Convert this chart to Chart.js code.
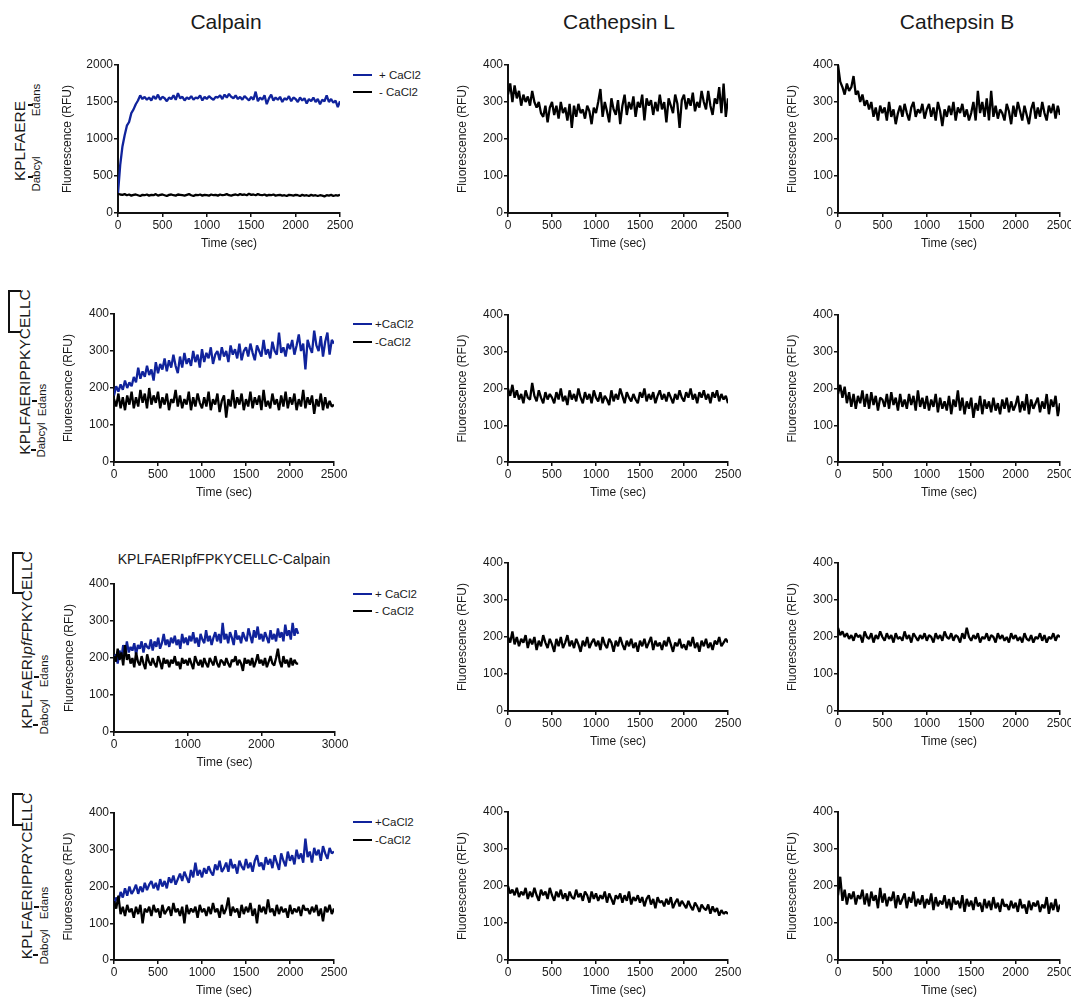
<!DOCTYPE html>
<html><head><meta charset="utf-8">
<script src="https://cdn.jsdelivr.net/npm/chart.js@4.4.1/dist/chart.umd.min.js"></script>
<style>
html,body{margin:0;padding:0;background:#fff;}
body{width:1071px;height:997px;position:relative;overflow:hidden;font-family:"Liberation Sans",Arial,Helvetica,sans-serif;color:#1a1a1a;}
canvas{position:absolute;}
.col{position:absolute;top:9px;font-size:21px;line-height:26px;transform:translateX(-50%);white-space:nowrap;}
.rot{position:absolute;white-space:nowrap;line-height:1;transform:translate(-50%,-50%) rotate(-90deg);}
.pep{font-size:15.5px;}
.lab{font-size:11.5px;}
.mark{position:absolute;height:2px;width:5px;background:#111;}
.br{position:absolute;border:2px solid #111;border-right:none;box-sizing:border-box;}
.leg{position:absolute;font-size:11.5px;line-height:12px;white-space:nowrap;}
.ln{position:absolute;height:2px;width:19px;}
.ptitle{position:absolute;font-size:14px;line-height:16px;white-space:nowrap;transform:translateX(-50%);}
</style></head><body>

<div class="col" style="left:226px">Calpain</div>
<div class="col" style="left:619px">Cathepsin L</div>
<div class="col" style="left:957px">Cathepsin B</div>

<!-- row labels -->
<div class="rot pep" style="left:20px;top:141px">KPLFAERE</div>
<div class="rot lab" style="left:37px;top:100px">Edans</div>
<div class="rot lab" style="left:37px;top:174px">Dabcyl</div>
<div class="mark" style="left:28px;top:104px"></div>
<div class="mark" style="left:28px;top:176px"></div>

<div class="br" style="left:8px;top:290px;width:13px;height:43px"></div>
<div class="rot pep" style="left:25px;top:372px">KPLFAERIPPKYCELLC</div>
<div class="rot lab" style="left:43px;top:400px">Edans</div>
<div class="rot lab" style="left:42px;top:440px">Dabcyl</div>
<div class="mark" style="left:32px;top:400px"></div>
<div class="mark" style="left:31px;top:449px"></div>

<div class="br" style="left:12px;top:552px;width:11px;height:42px"></div>
<div class="rot pep" style="left:27px;top:640px">KPLFAERI<i>pfF</i>PKYCELLC</div>
<div class="rot lab" style="left:45px;top:671px">Edans</div>
<div class="rot lab" style="left:45px;top:717px">Dabcyl</div>
<div class="mark" style="left:34px;top:676px"></div>
<div class="mark" style="left:33px;top:724px"></div>

<div class="br" style="left:12px;top:793px;width:11px;height:33px"></div>
<div class="rot pep" style="left:27px;top:876px">KPLFAERIPP<i>R</i>YCELLC</div>
<div class="rot lab" style="left:45px;top:903px">Edans</div>
<div class="rot lab" style="left:45px;top:947px">Dabcyl</div>
<div class="mark" style="left:34px;top:906px"></div>
<div class="mark" style="left:33px;top:954px"></div>

<div class="ptitle" style="left:224px;top:551px">KPLFAERIpfFPKYCELLC-Calpain</div>

<!-- legends -->
<div class="ln" style="left:353px;top:74px;background:#10239c"></div>
<div class="leg" style="left:379px;top:69px">+ CaCl2</div>
<div class="ln" style="left:353px;top:91px;background:#000"></div>
<div class="leg" style="left:379px;top:86px">- CaCl2</div>

<div class="ln" style="left:353px;top:323px;background:#10239c"></div>
<div class="leg" style="left:375px;top:318px">+CaCl2</div>
<div class="ln" style="left:353px;top:341px;background:#000"></div>
<div class="leg" style="left:375px;top:336px">-CaCl2</div>

<div class="ln" style="left:353px;top:593px;background:#10239c"></div>
<div class="leg" style="left:375px;top:588px">+ CaCl2</div>
<div class="ln" style="left:353px;top:610px;background:#000"></div>
<div class="leg" style="left:375px;top:605px">- CaCl2</div>

<div class="ln" style="left:353px;top:821px;background:#10239c"></div>
<div class="leg" style="left:375px;top:816px">+CaCl2</div>
<div class="ln" style="left:353px;top:839px;background:#000"></div>
<div class="leg" style="left:375px;top:834px">-CaCl2</div>

<script>
const times = [0,25,50,75,100,125,150,175,200,225,
250,275,300,325,350,375,400,425,450,475,
500,525,550,575,600,625,650,675,700,725,
750,775,800,825,850,875,900,925,950,975,
1000,1025,1050,1075,1100,1125,1150,1175,1200,1225,
1250,1275,1300,1325,1350,1375,1400,1425,1450,1475,
1500,1525,1550,1575,1600,1625,1650,1675,1700,1725,
1750,1775,1800,1825,1850,1875,1900,1925,1950,1975,
2000,2025,2050,2075,2100,2125,2150,2175,2200,2225,
2250,2275,2300,2325,2350,2375,2400,2425,2450,2475,
2500];

const yTicksBig = [0,500,1000,1500,2000];
const yTicks = [0,100,200,300,400];
const xTicks = [0,500,1000,1500,2000,2500];
const xTicks3000 = [0,1000,2000,3000];

// Row 1: KPLFAERE
const calpainR1Plus = [270,650,900,1050,1180,1230,1350,1400,1470,1520,
1590,1540,1570,1530,1560,1520,1580,1540,1600,1530,
1570,1550,1510,1560,1540,1590,1530,1620,1550,1570,
1520,1560,1540,1580,1530,1560,1550,1590,1520,1570,
1540,1580,1550,1530,1570,1560,1590,1540,1600,1560,
1610,1570,1550,1590,1540,1570,1530,1580,1550,1520,
1570,1530,1640,1510,1560,1530,1590,1470,1550,1600,
1520,1560,1530,1570,1500,1550,1530,1580,1510,1560,
1540,1500,1560,1520,1550,1480,1540,1510,1560,1500,
1540,1470,1530,1510,1590,1500,1540,1490,1520,1430,
1510];
const calpainR1Minus = [260,250,245,255,240,250,235,245,250,240,
230,245,240,250,235,245,240,255,235,245,
250,240,230,245,250,240,235,250,245,240,
235,245,255,240,230,245,240,250,235,245,
240,235,250,240,245,235,250,240,245,255,
240,235,245,250,240,255,245,250,240,260,
245,250,240,255,245,240,250,235,245,240,
250,235,240,245,235,240,230,245,240,235,
245,240,230,245,235,240,230,245,235,240,
230,240,235,225,240,235,245,230,240,235,
245];
const cathLR1 = [320,350,300,345,310,330,290,320,300,315,
290,330,300,285,300,270,260,290,245,285,
300,265,290,255,300,270,285,250,295,230,
290,260,295,270,280,255,290,275,240,285,
270,300,335,260,300,275,245,310,280,265,
305,240,290,320,265,300,280,315,260,300,
285,320,250,310,290,305,265,300,275,320,
280,300,245,310,290,270,320,295,230,305,
320,280,310,290,325,275,300,285,330,300,
280,330,290,265,310,295,340,270,350,260,
310];
const cathBR1 = [400,355,340,320,350,330,340,370,320,330,
300,320,290,305,280,300,260,285,250,290,
270,285,250,300,260,280,240,270,290,260,
295,270,250,285,300,260,280,270,295,255,
280,295,260,285,250,300,275,235,280,260,
290,265,300,250,285,270,295,260,280,250,
270,300,250,330,270,300,260,310,250,330,
260,290,255,280,270,250,295,275,240,290,
260,300,275,250,290,265,240,280,300,255,
285,260,300,270,250,290,270,295,255,290,
265];

// Row 2: KPLFAERIPPKYCELLC
const calpainR2Plus = [180,205,190,210,195,220,200,215,205,230,
215,255,225,245,230,260,235,250,220,270,
240,265,250,280,245,275,255,290,260,240,
285,255,295,265,280,260,300,270,290,255,
305,270,295,280,310,265,290,300,275,310,
285,300,270,315,290,305,280,320,275,300,
310,285,320,295,275,315,300,285,330,290,
305,280,325,300,290,350,295,310,285,320,
305,330,290,315,345,300,320,250,330,310,
295,355,315,300,340,285,325,350,290,330,
320];
const calpainR2Minus = [170,150,185,145,175,140,180,155,190,145,
175,150,195,160,185,145,200,155,180,160,
190,145,175,155,185,140,170,160,195,150,
180,145,170,155,190,140,175,150,185,160,
145,175,150,190,140,170,155,185,135,165,
180,120,170,150,195,145,175,155,185,140,
170,150,190,145,175,155,180,140,195,150,
165,145,185,155,170,140,180,150,190,145,
175,155,185,140,170,150,195,145,175,155,
180,130,170,150,185,140,175,145,165,150,
155];
const cathLR2 = [200,180,210,175,195,170,185,160,195,175,
170,215,180,165,195,175,160,190,170,185,
175,160,190,170,200,165,180,155,195,170,
185,165,200,175,160,190,170,185,160,195,
175,165,190,160,180,170,155,195,165,185,
170,200,180,160,190,175,165,185,170,160,
190,175,200,165,185,170,190,160,180,195,
170,185,165,190,175,160,185,170,195,175,
165,190,175,200,170,185,160,190,175,195,
170,185,160,190,175,195,165,185,170,180,
160];
const cathBR2 = [185,210,175,205,160,190,150,185,145,180,
160,195,150,185,145,190,155,180,140,175,
170,150,185,145,190,155,175,140,185,150,
170,145,185,155,180,140,195,150,175,145,
180,140,170,150,185,135,175,145,165,140,
180,130,170,150,195,140,175,130,165,145,
175,120,160,140,180,130,170,145,165,135,
175,140,160,130,170,145,175,135,165,140,
155,180,135,165,140,185,130,170,145,160,
175,135,165,145,185,130,170,150,180,125,
160];

// Row 3: KPLFAERIpfFPKYCELLC
const calpainR3Plus = [195,210,185,220,200,235,210,245,215,230,
220,240,210,235,225,245,215,240,230,225,
250,220,245,230,255,225,240,265,235,250,
230,255,240,260,235,250,225,265,240,255,
235,260,245,270,240,255,230,265,250,240,
275,245,260,235,255,270,245,265,240,295,
250,265,240,270,255,235,275,250,260,240,
270,255,245,280,260,240,275,255,285,250,
265,245,270,255,240,275,250,265,245,280,
255,270,245,290,260,275,250,295,260,280,
265];
const calpainR3Minus = [205,190,225,195,215,180,235,195,210,185,
200,175,215,190,180,205,185,170,210,190,
180,200,185,175,205,190,170,200,185,195,
175,195,185,205,180,190,170,200,185,195,
180,200,185,170,205,190,180,195,175,200,
185,175,200,190,180,205,185,175,195,190,
180,200,185,175,195,190,205,180,195,185,
165,200,185,195,180,200,175,190,210,185,
195,180,200,175,190,205,185,180,200,225,
190,175,205,185,195,175,200,180,195,185,
185];
const cathLR3 = [200,185,215,180,200,175,195,185,205,170,
195,180,200,165,190,175,205,185,170,195,
180,160,195,175,200,170,185,205,175,190,
170,195,180,160,190,175,200,170,185,195,
175,190,165,200,180,170,195,185,160,190,
175,200,180,165,190,175,195,170,185,160,
190,175,195,170,185,200,165,190,175,185,
165,190,175,200,180,160,185,175,195,170,
180,165,190,175,200,170,185,160,190,175,
195,170,185,165,190,180,200,175,185,195,
185];
const cathBR3 = [225,205,215,200,210,195,205,190,210,200,
205,185,215,200,195,210,185,205,195,215,
200,190,210,195,205,185,210,195,200,190,
215,195,205,185,210,200,190,205,195,210,
190,205,200,185,210,195,205,190,215,200,
195,210,190,205,200,185,210,195,225,200,
190,205,195,210,185,200,195,210,190,205,
200,185,210,195,205,190,200,185,210,195,
205,190,200,185,210,195,190,205,185,200,
195,210,190,205,185,200,195,210,190,205,
200];

// Row 4: KPLFAERIPPRYCELLC
const calpainR4Plus = [150,170,160,185,170,195,175,200,180,190,
205,180,200,185,210,190,205,215,195,210,
190,220,200,215,195,225,210,230,205,220,
235,215,240,225,210,245,225,265,230,245,
225,250,235,255,240,230,260,245,270,240,
250,265,240,275,250,260,235,270,255,245,
275,250,265,240,270,285,255,265,245,280,
260,275,250,285,265,245,290,270,255,295,
270,285,260,300,275,290,265,330,280,295,
265,305,285,300,270,310,290,275,305,290,
295];
const calpainR4Minus = [160,140,175,125,145,120,150,130,140,115,
145,125,150,100,140,130,145,120,150,130,
140,115,150,125,135,145,120,155,130,140,
120,145,100,150,125,140,130,145,115,150,
130,140,120,145,125,155,130,140,115,150,
125,140,170,120,145,130,140,115,150,125,
145,130,155,120,140,100,150,130,145,125,
165,130,140,120,150,125,145,130,140,115,
150,125,140,130,145,120,150,135,140,125,
145,130,150,120,140,105,145,130,150,125,
140];
const cathLR4 = [200,180,190,175,195,170,185,175,195,165,
185,170,195,175,160,190,175,185,165,195,
175,160,185,170,190,165,180,160,185,170,
165,190,170,180,160,185,175,155,185,165,
180,160,175,165,185,155,180,165,150,175,
165,180,155,175,160,185,150,170,160,175,
155,170,145,165,175,150,165,140,170,155,
160,145,165,150,170,140,155,165,145,160,
150,140,160,145,135,155,145,130,150,140,
135,150,125,145,130,140,120,135,125,130,
125];
const cathBR4 = [175,225,160,190,150,180,165,185,150,175,
165,190,150,180,145,185,160,175,140,195,
155,180,145,170,160,185,140,175,150,165,
180,140,170,155,185,145,165,150,175,140,
165,150,180,135,170,145,160,150,175,140,
165,135,170,150,160,140,175,130,165,145,
160,135,170,145,155,130,165,140,160,135,
170,140,155,130,165,145,150,135,160,140,
155,130,165,140,150,125,160,135,155,145,
160,130,150,140,170,125,155,135,165,130,
150];

const BLUE = '#10239c';
const BLACK = '#000000';
const FONT = '"Liberation Sans", Arial, Helvetica, sans-serif';
const TXT = '#1a1a1a';

function panel(cfg) {
  const padTop = 10, padR = 22, xH = 41;
  const W = cfg.yW + cfg.w + padR, H = padTop + cfg.h + xH;
  const cv = document.createElement('canvas');
  cv.width = W; cv.height = H;
  cv.style.left = (cfg.x - cfg.yW) + 'px';
  cv.style.top = (cfg.y - padTop) + 'px';
  cv.style.width = W + 'px'; cv.style.height = H + 'px';
  document.body.appendChild(cv);
  const axisCommon = {
    grid: {display: true, drawOnChartArea: false, drawTicks: true, tickLength: 4, color: '#111', lineWidth: 1.5},
    border: {display: true, color: '#111', width: 2}
  };
  new Chart(cv, {
    type: 'line',
    data: {
      datasets: cfg.series.map(s => ({
        data: times.map((t, i) => ({x: t, y: s.values[i]})),
        borderColor: s.color, borderWidth: 2.3, borderJoinStyle: 'bevel', borderCapStyle: 'butt',
        pointRadius: 0, tension: 0, fill: false
      }))
    },
    options: {
      responsive: false, animation: false, devicePixelRatio: 1,
      layout: {padding: {top: padTop, right: padR, left: 0, bottom: 0}},
      plugins: {legend: {display: false}, tooltip: {enabled: false}},
      scales: {
        x: Object.assign({
          type: 'linear', min: 0, max: cfg.xMax,
          afterBuildTicks: s => { s.ticks = cfg.xTicks.map(v => ({value: v})); },
          afterFit: s => { s.height = xH; },
          ticks: {color: TXT, font: {family: FONT, size: 12}, padding: 1, maxRotation: 0, autoSkip: false, callback: v => String(v)},
          title: {display: true, text: 'Time (sec)', color: TXT, font: {family: FONT, size: 12}, padding: {top: 4, bottom: 3}}
        }, axisCommon),
        y: Object.assign({
          type: 'linear', min: 0, max: cfg.yMax,
          afterBuildTicks: s => { s.ticks = cfg.yTicks.map(v => ({value: v})); },
          afterFit: s => { s.width = cfg.yW; },
          ticks: {color: TXT, font: {family: FONT, size: 12}, padding: 1, autoSkip: false, callback: v => String(v)},
          title: {display: true, text: 'Fluorescence (RFU)', color: TXT, font: {family: FONT, size: 12}, padding: {top: 4, bottom: 4}}
        }, axisCommon)
      }
    }
  });
}

const C2X = 508, C3X = 838;
// Row 1
panel({x:118, y:65, w:222, h:148, yW:62, xMax:2500, xTicks:xTicks, yMax:2000, yTicks:yTicksBig,
  series:[{values:calpainR1Minus,color:BLACK},{values:calpainR1Plus,color:BLUE}]});
panel({x:C2X, y:65, w:220, h:148, yW:57, xMax:2500, xTicks:xTicks, yMax:400, yTicks:yTicks,
  series:[{values:cathLR1,color:BLACK}]});
panel({x:C3X, y:65, w:222, h:148, yW:57, xMax:2500, xTicks:xTicks, yMax:400, yTicks:yTicks,
  series:[{values:cathBR1,color:BLACK}]});
// Row 2
panel({x:114, y:314, w:220, h:148, yW:57, xMax:2500, xTicks:xTicks, yMax:400, yTicks:yTicks,
  series:[{values:calpainR2Minus,color:BLACK},{values:calpainR2Plus,color:BLUE}]});
panel({x:C2X, y:315, w:220, h:147, yW:57, xMax:2500, xTicks:xTicks, yMax:400, yTicks:yTicks,
  series:[{values:cathLR2,color:BLACK}]});
panel({x:C3X, y:315, w:222, h:147, yW:57, xMax:2500, xTicks:xTicks, yMax:400, yTicks:yTicks,
  series:[{values:cathBR2,color:BLACK}]});
// Row 3
panel({x:114, y:584, w:221, h:148, yW:56, xMax:3000, xTicks:xTicks3000, yMax:400, yTicks:yTicks,
  series:[{values:calpainR3Minus,color:BLACK},{values:calpainR3Plus,color:BLUE}]});
panel({x:C2X, y:563, w:220, h:148, yW:57, xMax:2500, xTicks:xTicks, yMax:400, yTicks:yTicks,
  series:[{values:cathLR3,color:BLACK}]});
panel({x:C3X, y:563, w:222, h:148, yW:57, xMax:2500, xTicks:xTicks, yMax:400, yTicks:yTicks,
  series:[{values:cathBR3,color:BLACK}]});
// Row 4
panel({x:114, y:813, w:220, h:147, yW:57, xMax:2500, xTicks:xTicks, yMax:400, yTicks:yTicks,
  series:[{values:calpainR4Minus,color:BLACK},{values:calpainR4Plus,color:BLUE}]});
panel({x:C2X, y:812, w:220, h:148, yW:57, xMax:2500, xTicks:xTicks, yMax:400, yTicks:yTicks,
  series:[{values:cathLR4,color:BLACK}]});
panel({x:C3X, y:812, w:222, h:148, yW:57, xMax:2500, xTicks:xTicks, yMax:400, yTicks:yTicks,
  series:[{values:cathBR4,color:BLACK}]});
</script>
</body></html>
